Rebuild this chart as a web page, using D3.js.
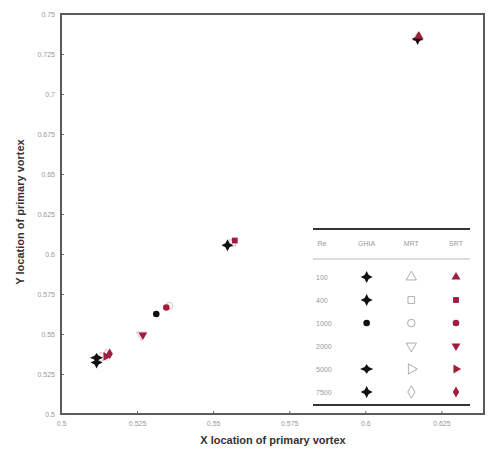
<!DOCTYPE html>
<html>
<head>
<meta charset="utf-8">
<script src="https://cdn.jsdelivr.net/npm/d3@7"></script>
<style>
  body { margin: 0; background: #fff; }
  text { font-family: "Liberation Sans", Arial, sans-serif; }
</style>
</head>
<body>
<div id="chart"></div>
<script>
// Re numbers and vortex centres (Ghia, MRT, SRT)
var reLabels = ["100", "400", "1000", "2000", "5000", "7500"];
var ghiaX = [0.6172, 0.5547, 0.5313, null, 0.5117, 0.5117];
var ghiaY = [0.7344, 0.6055, 0.5625, null, 0.5352, 0.5322];
var mrtX = [0.6172, 0.5563, 0.5356, 0.5264, 0.5137, 0.5149];
var mrtY = [0.7352, 0.6069, 0.5676, 0.5494, 0.5357, 0.5370];
var srtX = [0.6176, 0.5571, 0.5346, 0.5269, 0.5148, 0.5160];
var srtY = [0.7362, 0.6084, 0.5666, 0.5494, 0.5360, 0.5376];
var xTicks = [0.5, 0.525, 0.55, 0.575, 0.6, 0.625];
var yTicks = [0.5, 0.525, 0.55, 0.575, 0.6, 0.625, 0.65, 0.675, 0.7, 0.725, 0.75];
var headers = ["Re", "GHIA", "MRT", "SRT"];

var w = 489, h = 454;
var plotL = 61, plotR = 484, plotT = 14, plotB = 414;
var red = "#a11d3d";

var svg = d3.select("#chart").append("svg")
    .attr("width", w)
    .attr("height", h);

var x = d3.scaleLinear().domain([0.5, 0.639]).range([plotL, plotR]);
var y = d3.scaleLinear().domain([0.5, 0.75]).range([plotB, plotT]);

// axes with inward ticks
var xAxis = svg.append("g")
    .attr("transform", "translate(0," + plotB + ")")
    .call(d3.axisBottom(x).tickValues(xTicks).tickSize(-3).tickPadding(7)
        .tickFormat(function(d){ return String(+d.toFixed(3)); }));
var yAxis = svg.append("g")
    .attr("transform", "translate(" + plotL + ",0)")
    .call(d3.axisLeft(y).tickValues(yTicks).tickSize(-3).tickPadding(6)
        .tickFormat(function(d){ return String(+d.toFixed(3)); }));
[xAxis, yAxis].forEach(function(a){
    a.select(".domain").remove();
    a.selectAll("line").attr("stroke", "#666");
    a.selectAll("text").attr("fill", "#999").style("font-size", "7px");
});

// frame
svg.append("rect")
    .attr("x", plotL).attr("y", plotT)
    .attr("width", plotR - plotL).attr("height", plotB - plotT)
    .attr("fill", "none")
    .attr("stroke", "#5a5a5a")
    .attr("stroke-width", 2);

// axis titles
svg.append("text")
    .attr("x", 273).attr("y", 444)
    .attr("text-anchor", "middle")
    .attr("fill", "#333")
    .style("font-size", "11px").style("font-weight", "bold")
    .text("X location of primary vortex");
svg.append("text")
    .attr("transform", "translate(24,212) rotate(-90)")
    .attr("text-anchor", "middle")
    .attr("fill", "#333")
    .style("font-size", "11px").style("font-weight", "bold")
    .text("Y location of primary vortex");

// marker shapes
var srtSymbols = [d3.symbolTriangle, d3.symbolSquare, d3.symbolCircle,
    "down", "right", d3.symbolDiamond];

function star4(r, sx, sy) {
    var k = 0.34 * r;
    var pts = [[0, -r * sy], [k, -k], [r * sx, 0], [k, k], [0, r * sy], [-k, k], [-r * sx, 0], [-k, -k]];
    return "M" + pts.map(function(p){ return p.join(","); }).join("L") + "Z";
}
function ghiaPath(i) {
    if (i == 2) return d3.symbol(d3.symbolCircle, 34)();
    if (i == 4) return star4(6, 1.1, 0.8);
    return star4(6, 1, 1);
}
function markPath(i, size) {
    var s = srtSymbols[i];
    if (s == "down" || s == "right") return d3.symbol(d3.symbolTriangle, size)();
    return d3.symbol(s, size)();
}
function markRotate(i) {
    if (srtSymbols[i] == "down") return " rotate(180)";
    if (srtSymbols[i] == "right") return " rotate(90)";
    return "";
}

var idx = d3.range(reLabels.length);
var plot = svg.append("g");

// MRT open markers
plot.selectAll(".mrt")
    .data(idx)
    .enter()
    .append("path")
    .attr("class", "mrt")
    .attr("transform", function(i){ return "translate(" + x(mrtX[i]) + "," + y(mrtY[i]) + ")" + markRotate(i); })
    .attr("d", function(i){ return markPath(i, 40); })
    .attr("fill", "none")
    .attr("stroke", "#f0b8c6")
    .attr("stroke-width", 1);

// Ghia markers
plot.selectAll(".ghia")
    .data(idx.filter(function(i){ return ghiaX[i] != null; }))
    .enter()
    .append("path")
    .attr("class", "ghia")
    .attr("transform", function(i){ return "translate(" + x(ghiaX[i]) + "," + y(ghiaY[i]) + ")"; })
    .attr("d", ghiaPath)
    .attr("fill", "#111");

// SRT filled markers
plot.selectAll(".srt")
    .data(idx)
    .enter()
    .append("path")
    .attr("class", "srt")
    .attr("transform", function(i){ return "translate(" + x(srtX[i]) + "," + y(srtY[i]) + ")" + markRotate(i); })
    .attr("d", function(i){ return markPath(i, 34); })
    .attr("fill", red);

// legend table
var lx0 = 313, lx1 = 470;
var colX = d3.scalePoint().domain(headers).range([322, 456]);
var rowY = d3.scalePoint().domain(reLabels).range([277, 392]);
var legend = svg.append("g");

legend.append("line")
    .attr("x1", lx0).attr("x2", lx1).attr("y1", 229).attr("y2", 229)
    .attr("stroke", "#333").attr("stroke-width", 2);
legend.append("line")
    .attr("x1", lx0).attr("x2", lx1).attr("y1", 259).attr("y2", 259)
    .attr("stroke", "#bbb").attr("stroke-width", 1);
legend.append("line")
    .attr("x1", lx0).attr("x2", lx1).attr("y1", 405).attr("y2", 405)
    .attr("stroke", "#333").attr("stroke-width", 2);

legend.selectAll(".hdr")
    .data(headers)
    .enter()
    .append("text")
    .attr("x", function(d){ return colX(d); })
    .attr("y", 246)
    .attr("text-anchor", "middle")
    .attr("fill", "#999")
    .style("font-size", "7px")
    .text(function(d){ return d; });

legend.selectAll(".re")
    .data(reLabels)
    .enter()
    .append("text")
    .attr("x", 316)
    .attr("y", function(d){ return rowY(d) + 3; })
    .attr("fill", "#999")
    .style("font-size", "7px")
    .text(function(d){ return d; });

legend.selectAll(".lg")
    .data(idx.filter(function(i){ return ghiaX[i] != null; }))
    .enter()
    .append("path")
    .attr("transform", function(i){ return "translate(" + colX("GHIA") + "," + rowY(reLabels[i]) + ")"; })
    .attr("d", ghiaPath)
    .attr("fill", "#111");

legend.selectAll(".lm")
    .data(idx)
    .enter()
    .append("path")
    .attr("transform", function(i){ return "translate(" + colX("MRT") + "," + rowY(reLabels[i]) + ")" + markRotate(i); })
    .attr("d", function(i){ return markPath(i, 45); })
    .attr("fill", "none")
    .attr("stroke", "#999")
    .attr("stroke-width", 0.8);

legend.selectAll(".ls")
    .data(idx)
    .enter()
    .append("path")
    .attr("transform", function(i){ return "translate(" + colX("SRT") + "," + rowY(reLabels[i]) + ")" + markRotate(i); })
    .attr("d", function(i){ return markPath(i, 34); })
    .attr("fill", red);
</script>
</body>
</html>
